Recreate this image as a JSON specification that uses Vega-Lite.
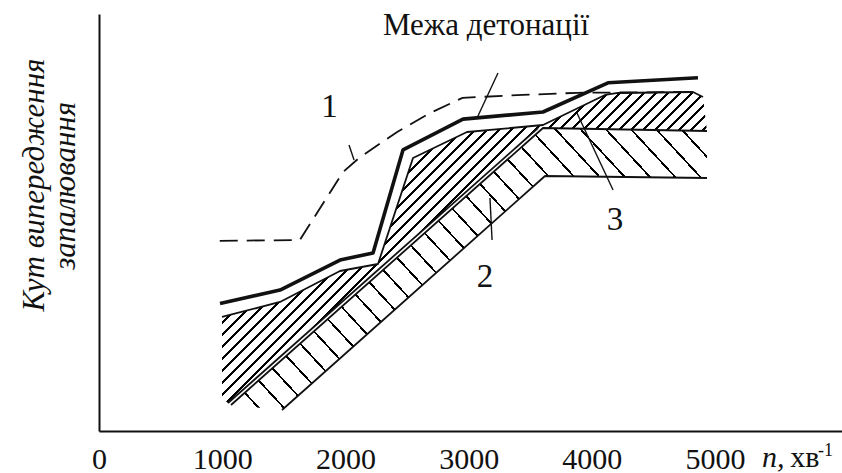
{
  "$schema": "https://vega.github.io/schema/vega-lite/v6.json",
  "width": 743,
  "height": 417,
  "autosize": "none",
  "padding": {"left": 99, "top": 14, "right": 0, "bottom": 42},
  "background": "white",
  "config": {"view": {"stroke": null}, "font": "Liberation Serif"},
  "datasets": {
    "zones": [
      {"zone": "3", "k": 0, "n": 998.2, "v": 27.34},
      {"zone": "3", "k": 1, "n": 1468.9, "v": 30.94},
      {"zone": "3", "k": 2, "n": 1955.9, "v": 38.37},
      {"zone": "3", "k": 3, "n": 2264.3, "v": 40.05},
      {"zone": "3", "k": 4, "n": 2548.3, "v": 65.47},
      {"zone": "3", "k": 5, "n": 2986.6, "v": 71.70},
      {"zone": "3", "k": 6, "n": 3603.4, "v": 73.38},
      {"zone": "3", "k": 7, "n": 4106.5, "v": 80.58},
      {"zone": "3", "k": 8, "n": 4212.1, "v": 81.06},
      {"zone": "3", "k": 9, "n": 4820.7, "v": 81.30},
      {"zone": "3", "k": 10, "n": 4901.9, "v": 80.10},
      {"zone": "3", "k": 11, "n": 4934.3, "v": 71.94},
      {"zone": "3", "k": 12, "n": 3619.6, "v": 72.66},
      {"zone": "3", "k": 13, "n": 3562.8, "v": 72.66},
      {"zone": "3", "k": 14, "n": 1046.9, "v": 6.71},
      {"zone": "3", "k": 15, "n": 998.2, "v": 7.91},
      {"zone": "2", "k": 0, "n": 1071.3, "v": 6.24},
      {"zone": "2", "k": 1, "n": 3603.4, "v": 72.66},
      {"zone": "2", "k": 2, "n": 4934.3, "v": 71.94},
      {"zone": "2", "k": 3, "n": 4934.3, "v": 60.67},
      {"zone": "2", "k": 4, "n": 3619.6, "v": 61.15},
      {"zone": "2", "k": 5, "n": 1485.2, "v": 5.04}
    ],
    "curves": [
      {"curve": "1", "n": 980, "v": 45.6},
      {"curve": "1", "n": 1630, "v": 45.8},
      {"curve": "1", "n": 1980, "v": 62.1},
      {"curve": "1", "n": 2120, "v": 65.7},
      {"curve": "1", "n": 2420, "v": 71.7},
      {"curve": "1", "n": 2690, "v": 76.3},
      {"curve": "1", "n": 2950, "v": 79.9},
      {"curve": "1", "n": 3440, "v": 80.6},
      {"curve": "1", "n": 3880, "v": 81.1},
      {"curve": "1", "n": 4820, "v": 81.3},
      {"curve": "limit", "n": 982, "v": 30.6},
      {"curve": "limit", "n": 1469, "v": 33.8},
      {"curve": "limit", "n": 1956, "v": 41.0},
      {"curve": "limit", "n": 2224, "v": 42.7},
      {"curve": "limit", "n": 2467, "v": 67.4},
      {"curve": "limit", "n": 2954, "v": 74.8},
      {"curve": "limit", "n": 3603, "v": 76.5},
      {"curve": "limit", "n": 4131, "v": 83.5},
      {"curve": "limit", "n": 4861, "v": 84.7},
      {"curve": "3 top", "n": 998.2, "v": 27.34},
      {"curve": "3 top", "n": 1468.9, "v": 30.94},
      {"curve": "3 top", "n": 1955.9, "v": 38.37},
      {"curve": "3 top", "n": 2264.3, "v": 40.05},
      {"curve": "3 top", "n": 2548.3, "v": 65.47},
      {"curve": "3 top", "n": 2986.6, "v": 71.70},
      {"curve": "3 top", "n": 3603.4, "v": 73.38},
      {"curve": "3 top", "n": 4106.5, "v": 80.58},
      {"curve": "3 top", "n": 4212.1, "v": 81.06},
      {"curve": "3 top", "n": 4820.7, "v": 81.30},
      {"curve": "3 top", "n": 4901.9, "v": 80.10},
      {"curve": "3 bottom", "n": 1046.9, "v": 6.71},
      {"curve": "3 bottom", "n": 3562.8, "v": 72.66},
      {"curve": "2 top", "n": 1071.3, "v": 6.24},
      {"curve": "2 top", "n": 3603.4, "v": 72.66},
      {"curve": "2 top", "n": 4934.3, "v": 71.94},
      {"curve": "2 bottom", "n": 1485.2, "v": 5.04},
      {"curve": "2 bottom", "n": 3619.6, "v": 61.15},
      {"curve": "2 bottom", "n": 4934.3, "v": 60.67}
    ],
    "leaders": [
      {"id": "limit", "n": 3238, "v": 85.85},
      {"id": "limit", "n": 3068, "v": 75.06},
      {"id": "1", "n": 2029, "v": 68.59},
      {"id": "1", "n": 2070, "v": 64.99},
      {"id": "2", "n": 3173, "v": 55.88},
      {"id": "2", "n": 3190, "v": 45.80},
      {"id": "3", "n": 3879, "v": 76.26},
      {"id": "3", "n": 4172, "v": 57.79}
    ],
    "labels": [
      {"text": "1", "n": 1871, "v": 75.3},
      {"text": "2", "n": 3133, "v": 34.5},
      {"text": "3", "n": 4188, "v": 48.2}
    ],
    "ytitle": [
      {"text": "Кут випередження", "n": -519, "v": 59.0},
      {"text": "запалювання", "n": -268, "v": 58.8}
    ],
    "rpm_marks": [
      {"n": 1000}, {"n": 2000}, {"n": 3000}, {"n": 4000}, {"n": 5000}
    ]
  },
  "encoding": {
    "x": {
      "field": "n", "type": "quantitative",
      "scale": {"domain": [0, 6030], "nice": false, "zero": false},
      "axis": {
        "values": [0, 1000, 2000, 3000, 4000, 5000], "format": "d", "title": null, "grid": false,
        "domainColor": "#111", "domainWidth": 2, "ticks": false,
        "labelPadding": 13, "labelFont": "Liberation Serif", "labelFontSize": 30,
        "labelColor": "#111", "labelFlush": false, "labelOverlap": false
      }
    },
    "y": {
      "field": "v", "type": "quantitative",
      "scale": {"domain": [0, 100], "nice": false},
      "axis": {
        "title": null, "labels": false, "ticks": false, "grid": false,
        "domainColor": "#111", "domainWidth": 2
      }
    }
  },
  "layer": [
    {
      "data": {"name": "zones"},
      "transform": [{"filter": "datum.zone === '3'"}],
      "mark": {
        "type": "line", "interpolate": "linear-closed", "strokeOpacity": 0,
        "fill": {
          "gradient": "linear", "x1": 0, "y1": 0, "x2": 1.163, "y2": 0.7458,
          "stops": [
            {"offset": 0, "color": "#fff"},
            {"offset": 0.2885, "color": "#fff"}, {"offset": 0.2885, "color": "#000"}, {"offset": 0.2919, "color": "#000"}, {"offset": 0.2919, "color": "#fff"},
            {"offset": 0.3036, "color": "#fff"}, {"offset": 0.3036, "color": "#000"}, {"offset": 0.3070, "color": "#000"}, {"offset": 0.3070, "color": "#fff"},
            {"offset": 0.3187, "color": "#fff"}, {"offset": 0.3187, "color": "#000"}, {"offset": 0.3221, "color": "#000"}, {"offset": 0.3221, "color": "#fff"},
            {"offset": 0.3337, "color": "#fff"}, {"offset": 0.3337, "color": "#000"}, {"offset": 0.3371, "color": "#000"}, {"offset": 0.3371, "color": "#fff"},
            {"offset": 0.3488, "color": "#fff"}, {"offset": 0.3488, "color": "#000"}, {"offset": 0.3522, "color": "#000"}, {"offset": 0.3522, "color": "#fff"},
            {"offset": 0.3639, "color": "#fff"}, {"offset": 0.3639, "color": "#000"}, {"offset": 0.3673, "color": "#000"}, {"offset": 0.3673, "color": "#fff"},
            {"offset": 0.3790, "color": "#fff"}, {"offset": 0.3790, "color": "#000"}, {"offset": 0.3824, "color": "#000"}, {"offset": 0.3824, "color": "#fff"},
            {"offset": 0.3940, "color": "#fff"}, {"offset": 0.3940, "color": "#000"}, {"offset": 0.3974, "color": "#000"}, {"offset": 0.3974, "color": "#fff"},
            {"offset": 0.4091, "color": "#fff"}, {"offset": 0.4091, "color": "#000"}, {"offset": 0.4125, "color": "#000"}, {"offset": 0.4125, "color": "#fff"},
            {"offset": 0.4242, "color": "#fff"}, {"offset": 0.4242, "color": "#000"}, {"offset": 0.4276, "color": "#000"}, {"offset": 0.4276, "color": "#fff"},
            {"offset": 0.4393, "color": "#fff"}, {"offset": 0.4393, "color": "#000"}, {"offset": 0.4427, "color": "#000"}, {"offset": 0.4427, "color": "#fff"},
            {"offset": 0.4543, "color": "#fff"}, {"offset": 0.4543, "color": "#000"}, {"offset": 0.4577, "color": "#000"}, {"offset": 0.4577, "color": "#fff"},
            {"offset": 0.4694, "color": "#fff"}, {"offset": 0.4694, "color": "#000"}, {"offset": 0.4728, "color": "#000"}, {"offset": 0.4728, "color": "#fff"},
            {"offset": 0.4845, "color": "#fff"}, {"offset": 0.4845, "color": "#000"}, {"offset": 0.4879, "color": "#000"}, {"offset": 0.4879, "color": "#fff"},
            {"offset": 0.4996, "color": "#fff"}, {"offset": 0.4996, "color": "#000"}, {"offset": 0.5030, "color": "#000"}, {"offset": 0.5030, "color": "#fff"},
            {"offset": 0.5146, "color": "#fff"}, {"offset": 0.5146, "color": "#000"}, {"offset": 0.5180, "color": "#000"}, {"offset": 0.5180, "color": "#fff"},
            {"offset": 0.5297, "color": "#fff"}, {"offset": 0.5297, "color": "#000"}, {"offset": 0.5331, "color": "#000"}, {"offset": 0.5331, "color": "#fff"},
            {"offset": 0.5448, "color": "#fff"}, {"offset": 0.5448, "color": "#000"}, {"offset": 0.5482, "color": "#000"}, {"offset": 0.5482, "color": "#fff"},
            {"offset": 0.5599, "color": "#fff"}, {"offset": 0.5599, "color": "#000"}, {"offset": 0.5633, "color": "#000"}, {"offset": 0.5633, "color": "#fff"},
            {"offset": 0.5749, "color": "#fff"}, {"offset": 0.5749, "color": "#000"}, {"offset": 0.5783, "color": "#000"}, {"offset": 0.5783, "color": "#fff"},
            {"offset": 0.5900, "color": "#fff"}, {"offset": 0.5900, "color": "#000"}, {"offset": 0.5934, "color": "#000"}, {"offset": 0.5934, "color": "#fff"},
            {"offset": 0.6051, "color": "#fff"}, {"offset": 0.6051, "color": "#000"}, {"offset": 0.6085, "color": "#000"}, {"offset": 0.6085, "color": "#fff"},
            {"offset": 0.6202, "color": "#fff"}, {"offset": 0.6202, "color": "#000"}, {"offset": 0.6236, "color": "#000"}, {"offset": 0.6236, "color": "#fff"},
            {"offset": 0.6352, "color": "#fff"}, {"offset": 0.6352, "color": "#000"}, {"offset": 0.6386, "color": "#000"}, {"offset": 0.6386, "color": "#fff"},
            {"offset": 0.6503, "color": "#fff"}, {"offset": 0.6503, "color": "#000"}, {"offset": 0.6537, "color": "#000"}, {"offset": 0.6537, "color": "#fff"},
            {"offset": 1, "color": "#fff"}
          ]
        }
      },
      "encoding": {"order": {"field": "k", "type": "quantitative"}}
    },
    {
      "data": {"name": "zones"},
      "transform": [{"filter": "datum.zone === '2'"}],
      "mark": {
        "type": "line", "interpolate": "linear-closed", "strokeOpacity": 0,
        "fill": {
          "gradient": "linear", "x1": 0, "y1": 1, "x2": 1.1905, "y2": 0.3475,
          "stops": [
            {"offset": 0, "color": "#fff"},
            {"offset": 0.0386, "color": "#fff"}, {"offset": 0.0386, "color": "#000"}, {"offset": 0.0420, "color": "#000"}, {"offset": 0.0420, "color": "#fff"},
            {"offset": 0.0728, "color": "#fff"}, {"offset": 0.0728, "color": "#000"}, {"offset": 0.0762, "color": "#000"}, {"offset": 0.0762, "color": "#fff"},
            {"offset": 0.1070, "color": "#fff"}, {"offset": 0.1070, "color": "#000"}, {"offset": 0.1104, "color": "#000"}, {"offset": 0.1104, "color": "#fff"},
            {"offset": 0.1412, "color": "#fff"}, {"offset": 0.1412, "color": "#000"}, {"offset": 0.1446, "color": "#000"}, {"offset": 0.1446, "color": "#fff"},
            {"offset": 0.1754, "color": "#fff"}, {"offset": 0.1754, "color": "#000"}, {"offset": 0.1788, "color": "#000"}, {"offset": 0.1788, "color": "#fff"},
            {"offset": 0.2096, "color": "#fff"}, {"offset": 0.2096, "color": "#000"}, {"offset": 0.2130, "color": "#000"}, {"offset": 0.2130, "color": "#fff"},
            {"offset": 0.2438, "color": "#fff"}, {"offset": 0.2438, "color": "#000"}, {"offset": 0.2472, "color": "#000"}, {"offset": 0.2472, "color": "#fff"},
            {"offset": 0.2780, "color": "#fff"}, {"offset": 0.2780, "color": "#000"}, {"offset": 0.2814, "color": "#000"}, {"offset": 0.2814, "color": "#fff"},
            {"offset": 0.3122, "color": "#fff"}, {"offset": 0.3122, "color": "#000"}, {"offset": 0.3156, "color": "#000"}, {"offset": 0.3156, "color": "#fff"},
            {"offset": 0.3464, "color": "#fff"}, {"offset": 0.3464, "color": "#000"}, {"offset": 0.3498, "color": "#000"}, {"offset": 0.3498, "color": "#fff"},
            {"offset": 0.3806, "color": "#fff"}, {"offset": 0.3806, "color": "#000"}, {"offset": 0.3840, "color": "#000"}, {"offset": 0.3840, "color": "#fff"},
            {"offset": 0.4148, "color": "#fff"}, {"offset": 0.4148, "color": "#000"}, {"offset": 0.4182, "color": "#000"}, {"offset": 0.4182, "color": "#fff"},
            {"offset": 0.4490, "color": "#fff"}, {"offset": 0.4490, "color": "#000"}, {"offset": 0.4524, "color": "#000"}, {"offset": 0.4524, "color": "#fff"},
            {"offset": 0.4832, "color": "#fff"}, {"offset": 0.4832, "color": "#000"}, {"offset": 0.4866, "color": "#000"}, {"offset": 0.4866, "color": "#fff"},
            {"offset": 0.5174, "color": "#fff"}, {"offset": 0.5174, "color": "#000"}, {"offset": 0.5208, "color": "#000"}, {"offset": 0.5208, "color": "#fff"},
            {"offset": 0.5516, "color": "#fff"}, {"offset": 0.5516, "color": "#000"}, {"offset": 0.5550, "color": "#000"}, {"offset": 0.5550, "color": "#fff"},
            {"offset": 0.5858, "color": "#fff"}, {"offset": 0.5858, "color": "#000"}, {"offset": 0.5892, "color": "#000"}, {"offset": 0.5892, "color": "#fff"},
            {"offset": 0.6200, "color": "#fff"}, {"offset": 0.6200, "color": "#000"}, {"offset": 0.6234, "color": "#000"}, {"offset": 0.6234, "color": "#fff"},
            {"offset": 0.6542, "color": "#fff"}, {"offset": 0.6542, "color": "#000"}, {"offset": 0.6576, "color": "#000"}, {"offset": 0.6576, "color": "#fff"},
            {"offset": 0.6884, "color": "#fff"}, {"offset": 0.6884, "color": "#000"}, {"offset": 0.6918, "color": "#000"}, {"offset": 0.6918, "color": "#fff"},
            {"offset": 0.7226, "color": "#fff"}, {"offset": 0.7226, "color": "#000"}, {"offset": 0.7260, "color": "#000"}, {"offset": 0.7260, "color": "#fff"},
            {"offset": 0.7568, "color": "#fff"}, {"offset": 0.7568, "color": "#000"}, {"offset": 0.7602, "color": "#000"}, {"offset": 0.7602, "color": "#fff"},
            {"offset": 0.7910, "color": "#fff"}, {"offset": 0.7910, "color": "#000"}, {"offset": 0.7944, "color": "#000"}, {"offset": 0.7944, "color": "#fff"},
            {"offset": 0.8252, "color": "#fff"}, {"offset": 0.8252, "color": "#000"}, {"offset": 0.8286, "color": "#000"}, {"offset": 0.8286, "color": "#fff"},
            {"offset": 0.8594, "color": "#fff"}, {"offset": 0.8594, "color": "#000"}, {"offset": 0.8628, "color": "#000"}, {"offset": 0.8628, "color": "#fff"},
            {"offset": 0.8936, "color": "#fff"}, {"offset": 0.8936, "color": "#000"}, {"offset": 0.8970, "color": "#000"}, {"offset": 0.8970, "color": "#fff"},
            {"offset": 0.9278, "color": "#fff"}, {"offset": 0.9278, "color": "#000"}, {"offset": 0.9312, "color": "#000"}, {"offset": 0.9312, "color": "#fff"},
            {"offset": 0.9620, "color": "#fff"}, {"offset": 0.9620, "color": "#000"}, {"offset": 0.9654, "color": "#000"}, {"offset": 0.9654, "color": "#fff"},
            {"offset": 1, "color": "#fff"}
          ]
        }
      },
      "encoding": {"order": {"field": "k", "type": "quantitative"}}
    },
    {
      "data": {"name": "rpm_marks"},
      "mark": {"type": "tick", "orient": "vertical", "color": "#000", "size": 10, "thickness": 2, "opacity": 1},
      "encoding": {"y": {"datum": 1.1}}
    },
    {
      "data": {"name": "curves"},
      "transform": [{"filter": "datum.curve === '3 top' || datum.curve === '3 bottom' || datum.curve === '2 top' || datum.curve === '2 bottom'"}],
      "mark": {"type": "line", "color": "#111", "strokeWidth": 1.8, "strokeJoin": "round"},
      "encoding": {"detail": {"field": "curve"}}
    },
    {
      "data": {"name": "curves"},
      "transform": [{"filter": "datum.curve === '1'"}],
      "mark": {"type": "line", "color": "#111", "strokeWidth": 1.8, "strokeDash": [18, 9]},
      "encoding": {}
    },
    {
      "data": {"name": "curves"},
      "transform": [{"filter": "datum.curve === 'limit'"}],
      "mark": {"type": "line", "color": "#111", "strokeWidth": 3.6, "strokeJoin": "round"},
      "encoding": {}
    },
    {
      "data": {"name": "leaders"},
      "mark": {"type": "line", "color": "#111", "strokeWidth": 1.4},
      "encoding": {"detail": {"field": "id"}}
    },
    {
      "data": {"name": "labels"},
      "mark": {"type": "text", "font": "Liberation Serif", "fontSize": 33, "color": "#111", "align": "center", "baseline": "alphabetic"},
      "encoding": {"text": {"field": "text"}}
    },
    {
      "data": {"name": "ytitle"},
      "mark": {"type": "text", "font": "Liberation Serif", "fontSize": 31, "fontStyle": "italic", "color": "#111", "align": "center", "baseline": "middle", "angle": 270},
      "encoding": {"text": {"field": "text"}}
    },
    {
      "data": {"values": [{"text": "Межа детонації", "n": 3141, "v": 95.0}]},
      "mark": {"type": "text", "font": "Liberation Serif", "fontSize": 31, "color": "#111", "align": "center", "baseline": "alphabetic"},
      "encoding": {"text": {"field": "text"}}
    },
    {
      "data": {"values": [{"text": "n,", "n": 5381, "v": -8.6}]},
      "mark": {"type": "text", "font": "Liberation Serif", "fontSize": 30, "fontStyle": "italic", "color": "#111", "align": "left", "baseline": "alphabetic"},
      "encoding": {"text": {"field": "text"}}
    },
    {
      "data": {"values": [{"text": "хв", "n": 5609, "v": -8.6}]},
      "mark": {"type": "text", "font": "Liberation Serif", "fontSize": 30, "color": "#111", "align": "left", "baseline": "alphabetic"},
      "encoding": {"text": {"field": "text"}}
    },
    {
      "data": {"values": [{"text": "-1", "n": 5836, "v": -6.0}]},
      "mark": {"type": "text", "font": "Liberation Serif", "fontSize": 18, "color": "#111", "align": "left", "baseline": "alphabetic"},
      "encoding": {"text": {"field": "text"}}
    }
  ]
}
